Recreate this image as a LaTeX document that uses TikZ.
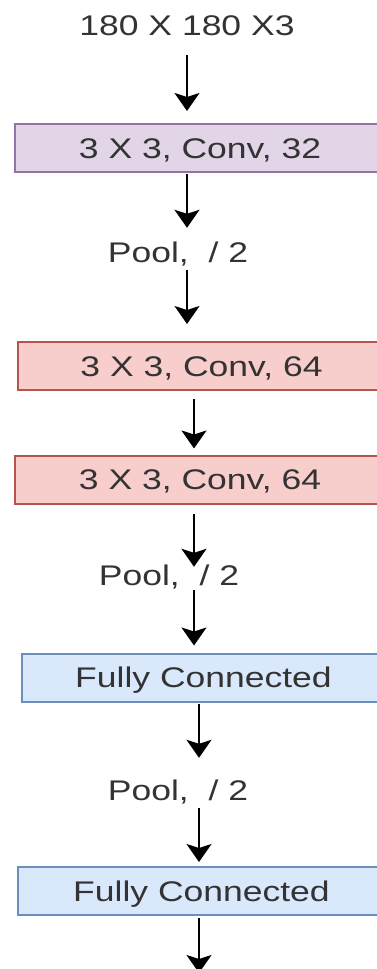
\documentclass[tikz,border=0pt]{standalone}
\usepackage{fontspec}
\setmainfont{Liberation Sans}
\usetikzlibrary{arrows.meta}

\definecolor{convA}{HTML}{E1D5E7}
\definecolor{convAline}{HTML}{9673A6}
\definecolor{convB}{HTML}{F8CECC}
\definecolor{convBline}{HTML}{B85450}
\definecolor{fcfill}{HTML}{DAE8FC}
\definecolor{fcline}{HTML}{6C8EBF}
\definecolor{txtgrey}{HTML}{333333}

\newcommand{\lbl}[1]{\scalebox{1}[0.8]{#1}}

\begin{document}
\begin{tikzpicture}[x=1pt, y=-1pt,
    txt/.style={inner sep=0pt, text height=20pt, text depth=0pt, text=txtgrey,
        font=\fontsize{35.5}{36}\selectfont},
    layer/.style={txt, draw, line width=2pt, minimum height=48pt},
    arr/.style={line width=2pt, -{Stealth[width=25pt, length=18pt, inset=4pt]}}]

    \useasboundingbox (0,0) rectangle (377,969);
    \clip (0,0) rectangle (377,969);

    \coordinate (colA) at (187,0);
    \coordinate (colB) at (194,0);
    \coordinate (colC) at (199,0);
    \coordinate (out) at (199,973);

    \node[txt] (inp) at (187,25) {\lbl{180 X 180 X3}};

    \node[layer, fill=convA, draw=convAline, minimum width=370pt] (c1) at (200,148) {\lbl{3 X 3, Conv, 32}};
    \node[txt] (p1) at (178,252) {\lbl{Pool,\ \ / 2}};
    \node[layer, fill=convB, draw=convBline, minimum width=367pt] (c2) at (201.5,366) {\lbl{3 X 3, Conv, 64}};
    \node[layer, fill=convB, draw=convBline, minimum width=370pt] (c3) at (200,479.5) {\lbl{3 X 3, Conv, 64}};
    \node[txt] (p2) at (169,575) {\lbl{Pool,\ \ / 2}};
    \node[layer, fill=fcfill, draw=fcline, minimum width=363pt] (f1) at (203.5,677.5) {\lbl{Fully Connected}};
    \node[txt] (p3) at (178,790) {\lbl{Pool,\ \ / 2}};
    \node[layer, fill=fcfill, draw=fcline, minimum width=367pt] (f2) at (201.5,891) {\lbl{Fully Connected}};

    \draw[arr, shorten <=20pt, shorten >=12pt] (inp.south -| colA) -- (c1.north -| colA);
    \draw[arr, shorten <=1pt, shorten >=14pt] (c1.south -| colA) -- (p1.north -| colA);
    \draw[arr, shorten <=8pt, shorten >=17pt] (p1.south -| colA) -- (c2.north -| colA);
    \draw[arr, shorten <=8pt, shorten >=6pt] (c2.south -| colB) -- (c3.north -| colB);
    \draw[arr, shorten <=9pt, shorten >=-2pt] (c3.south -| colB) -- (p2.north -| colB);
    \draw[arr, shorten <=5pt, shorten >=7pt] (p2.south -| colB) -- (f1.north -| colB);
    \draw[arr, shorten <=1pt, shorten >=22pt] (f1.south -| colC) -- (p3.north -| colC);
    \draw[arr, shorten <=8pt, shorten >=4pt] (p3.south -| colC) -- (f2.north -| colC);
    \draw[arr, shorten <=2pt] (f2.south -| colC) -- (out);

\end{tikzpicture}
\end{document}
